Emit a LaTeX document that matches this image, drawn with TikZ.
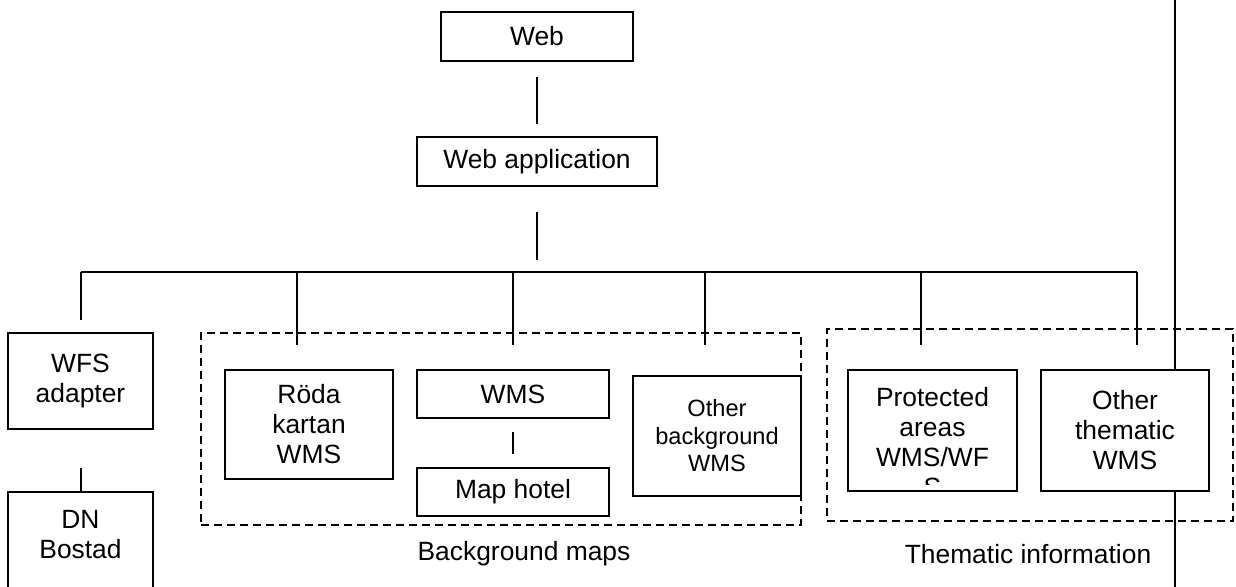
\documentclass[tikz,border=0pt]{standalone}
\usepackage{fontspec}
\setmainfont{Liberation Sans}
\usetikzlibrary{positioning}

\begin{document}
\begin{tikzpicture}[x=0.5pt,y=-0.5pt,line width=1pt,
	box/.style={draw,fill=white,rectangle,inner sep=0pt,align=center,font=\fontsize{13.2}{15}\selectfont},
	smallbox/.style={box,font=\fontsize{11.8}{13.75}\selectfont},
	frame/.style={draw,dash pattern=on 4pt off 2.5pt,rectangle,inner sep=0pt},
	caption/.style={inner sep=0pt,align=center,font=\fontsize{13.2}{15}\selectfont}]
		
		\useasboundingbox (0,0) rectangle (1236,587);
		\clip (0,0) rectangle (1236,587);
		
		% dashed groups
		\node[frame,minimum width=300pt,minimum height=96pt] (bgframe) at (501,429) {};
		\node[frame,minimum width=203pt,minimum height=96pt] (themframe) at (1030,425) {};
		\node[caption] (bgcap) at (524,554) {Background maps};
		\node[caption] (themcap) at (1028,554) {Thematic information};
		
		% long line on the right
		\coordinate (railtop) at (1175,0);
		\coordinate (railbot) at (1175,587);
		\draw (railtop) -- (railbot);
		
		\node[box,minimum width=96pt,minimum height=24.5pt] (web) at (537,36.5) {Web};
		\node[box,minimum width=120pt,minimum height=24.5pt] (webapp) at (537,161.5) {Web application};
		\draw[shorten <=7.5pt,shorten >=6pt] (web) -- (webapp);
		
		% bus
		\coordinate (bus) at (537,272);
		\coordinate (busL) at (81,272);
		\coordinate (busR) at (1137,272);
		\coordinate (droplevel) at (0,345);
		\draw[shorten <=12.5pt,shorten >=6pt] (webapp) -- (bus);
		\draw (busL) -- (busR);
		\foreach \x in {297,513,705,921,1137}
		\draw (\x,0 |- busL) -- (\x,0 |- droplevel);
		
		\node[box,minimum width=72.5pt,minimum height=48pt] (wfs) at (80.5,381) {WFS\\adapter};
		\node[box,minimum width=72.5pt,minimum height=104pt] (dn) at (80.5,596) {};
		\node[caption,below=9pt of dn.north] (dntext) {DN\\Bostad};
		\draw[shorten >=6pt] (busL) -- (busL |- wfs.north);
		\draw[shorten <=19pt] (wfs) -- (dn);
		
		\node[box,minimum width=84pt,minimum height=54.5pt] (roda) at (309,424.5) {Röda\\kartan\\WMS};
		\node[box,minimum width=96pt,minimum height=24pt] (wms) at (513,394) {WMS};
		\node[box,minimum width=96pt,minimum height=24pt] (hotel) at (513,492) {Map hotel};
		\draw[shorten <=6.5pt,shorten >=6.5pt] (wms) -- (hotel);
		\node[smallbox,minimum width=84pt,minimum height=60pt] (otherbg) at (717,436) {Other\\background\\WMS};
		
		\node[box,minimum width=84.5pt,minimum height=60.5pt] (prot) at (932.5,430.5) {};
		\begin{scope}
			\clip (prot.north west) rectangle ([yshift=4pt]prot.south east);
			\node[caption,below=8.75pt of prot.north] (prottext) {Protected\\areas\\WMS/WF\\S};
		\end{scope}
		\node[box,minimum width=84pt,minimum height=60.5pt] (otherthem) at (1125,430.5) {Other\\thematic\\WMS};
		
	\end{tikzpicture}
\end{document}
